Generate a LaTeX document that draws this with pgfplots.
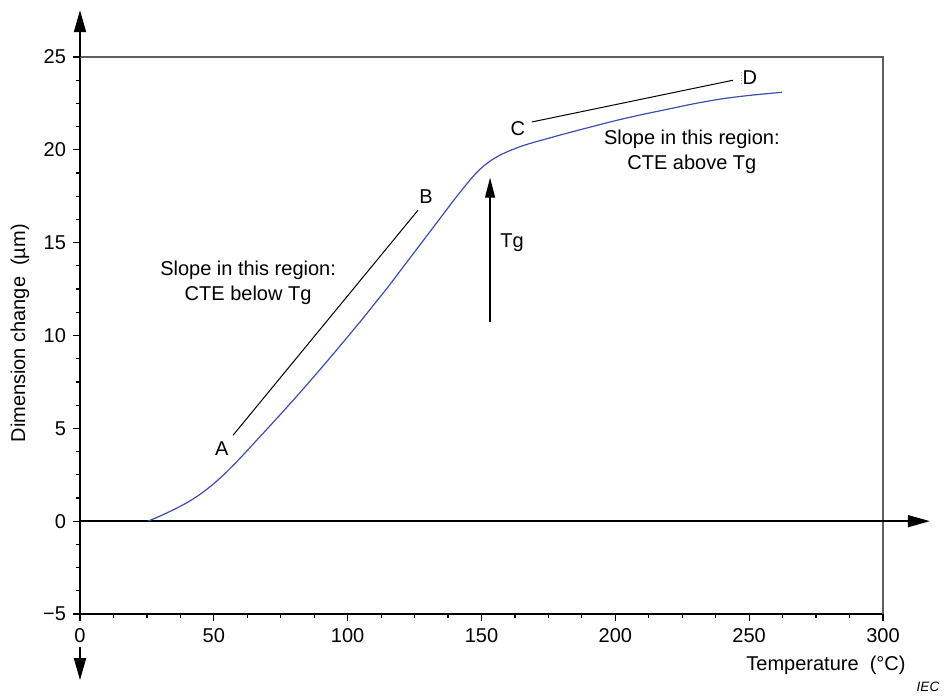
\documentclass[border=0pt]{standalone}
\usepackage{pgfplots}
\pgfplotsset{compat=1.18}
\usepackage{fontspec}
\setmainfont{Liberation Sans}
\usetikzlibrary{arrows.meta}
\definecolor{curveblue}{RGB}{60,78,178}
\definecolor{framegray}{RGB}{95,95,95}
\begin{document}
\begin{tikzpicture}[font=\fontsize{10}{12}\selectfont]
\begin{axis}[
  scale only axis, width=401.5pt, height=278.5pt,
  xmin=0, xmax=300, ymin=-5, ymax=25,
  axis lines=left, axis line style={-, line width=1pt, black},
  xtick={0,50,...,300}, ytick={-5,0,...,25},
  yticklabels={−5,0,5,10,15,20,25},
  minor x tick num=3, minor y tick num=3,
  tick align=outside, major tick length=3.5pt, minor tick length=2pt,
  tick style={black, line width=0.6pt},
  /pgf/number format/assume math mode=true,
  xlabel={Temperature\ \ (°C)}, ylabel={Dimension change\ \ (µm)},
  xlabel style={at={(axis description cs:0.929,-0.0916)}, anchor=center},
  ylabel style={at={(axis description cs:-0.0747,0.504)}, anchor=center},
  clip=false,
]
% frame (top and right)
\draw[framegray, line width=0.6pt] (axis cs:0,25) -- (axis cs:300,25) -- (axis cs:300,-5);
% extended axes with arrows
\draw[line width=1pt, -{Triangle[length=11pt,width=6pt]}] (axis cs:0,25) -- (axis cs:0,27.52);
\draw[line width=1pt, -{Triangle[length=11pt,width=6pt]}] (axis cs:0,-6.79) -- (axis cs:0,-8.56);
\draw[line width=0.8pt, -{Triangle[length=11pt,width=6pt]}] (axis cs:0,0) -- (axis cs:317.5,0);
% measured curve
\addplot[curveblue, line width=0.6pt, smooth, tension=0.5] coordinates {
 (25.4,0) (30,0.28) (35,0.62) (40,1.0) (45,1.46) (50,2.02) (55,2.68) (60,3.42)
 (65,4.2) (70,4.98) (75,5.77) (80,6.57) (85,7.39) (90,8.22) (95,9.07) (100,9.93)
 (105,10.8) (110,11.7) (115,12.6) (120,13.55) (125,14.5) (130,15.45) (135,16.4)
 (140,17.35) (145,18.25) (148,18.75) (151,19.15) (154,19.47) (157,19.72) (160,19.92)
 (165,20.2) (170,20.42) (175,20.62) (180,20.82) (190,21.2) (200,21.57) (210,21.9)
 (220,22.2) (230,22.5) (240,22.75) (250,22.93) (262.2,23.1)
};
% slope lines
\addplot[black, line width=0.5pt] coordinates {(57.2,4.63) (126.3,16.75)};
\addplot[black, line width=0.5pt] coordinates {(168.8,21.5) (244,23.75)};
\draw[densely dotted, gray!60, line width=0.4pt] (axis cs:247,23.55) -- (axis cs:247,24.3);
% Tg arrow
\draw[line width=0.6pt, -{Triangle[length=10pt,width=5pt]}] (axis cs:153.2,10.7) -- (axis cs:153.2,18.5);
% labels
\node at (axis cs:53.0,3.93) {A};
\node at (axis cs:129.3,17.5) {B};
\node at (axis cs:163.6,21.16) {C};
\node at (axis cs:250.3,23.9) {D};
\node at (axis cs:161.4,15.0) {Tg};
\node[align=center, font=\fontsize{10}{12.5}\selectfont] at (axis cs:62.8,12.85) {Slope in this region:\\CTE below Tg};
\node[align=center, font=\fontsize{10}{12.5}\selectfont] at (axis cs:228.6,19.87) {Slope in this region:\\CTE above Tg};
\node[font=\fontsize{6.8}{8}\itshape, anchor=east] at (axis description cs:1.079,-0.131) {IEC};
\end{axis}
\pgfresetboundingbox
\path[use as bounding box] (-40pt,-43pt) rectangle (432pt,307pt);
\end{tikzpicture}
\end{document}
